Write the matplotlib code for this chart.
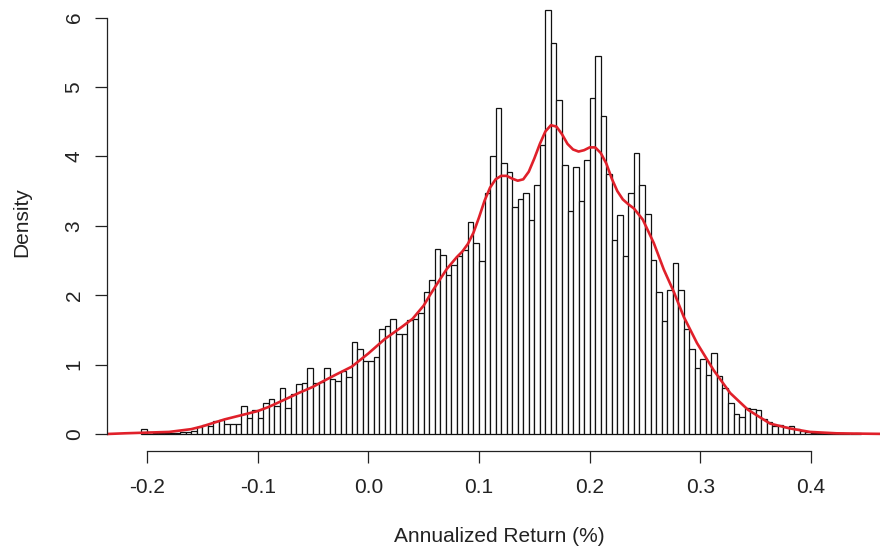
import numpy as np
import matplotlib
matplotlib.use("Agg")
import matplotlib.pyplot as plt

plt.rcParams["font.family"] = "Liberation Sans"

# histogram: bins of 0.005 starting at -0.205, heights (density)
bin_start = -0.205
bin_width = 0.005
heights = [
    0.07, 0.03, 0.02, 0.02, 0.02, 0.02, 0.02, 0.03, 0.03, 0.05,   # -0.205 .. -0.160
    0.10, 0.13, 0.12, 0.19, 0.20, 0.15, 0.15, 0.15, 0.40, 0.23,   # -0.155 .. -0.110
    0.35, 0.23, 0.44, 0.50, 0.40, 0.67, 0.37, 0.58, 0.72, 0.73,   # -0.105 .. -0.060
    0.95, 0.74, 0.75, 0.95, 0.79, 0.76, 0.91, 0.82, 1.33, 1.23,   # -0.055 .. -0.010
    1.05, 1.05, 1.11, 1.51, 1.56, 1.66, 1.44, 1.44, 1.64, 1.66,   # -0.005 .. 0.040
    1.75, 2.04, 2.22, 2.67, 2.58, 2.29, 2.43, 2.56, 2.65, 3.05,   # 0.045 .. 0.090
    2.75, 2.49, 3.48, 4.01, 4.70, 3.90, 3.77, 3.27, 3.38, 3.47,   # 0.095 .. 0.140
    3.08, 3.59, 4.16, 6.11, 5.64, 4.82, 3.87, 3.21, 3.85, 3.36,   # 0.145 .. 0.190
    3.95, 4.84, 5.45, 4.58, 3.75, 2.80, 3.15, 2.56, 3.47, 4.05,   # 0.195 .. 0.240
    3.59, 3.17, 2.51, 2.05, 1.63, 2.08, 2.46, 2.07, 1.51, 1.23,   # 0.245 .. 0.290
    0.95, 1.08, 0.85, 1.16, 0.83, 0.67, 0.44, 0.29, 0.25, 0.37,   # 0.295 .. 0.340
    0.36, 0.35, 0.21, 0.18, 0.12, 0.13, 0.10, 0.12, 0.07, 0.05,   # 0.345 .. 0.390
    0.03, 0.02, 0.01, 0.01, 0.01, 0.00, 0.01, 0.00, 0.00, 0.02,   # 0.395 .. 0.440
]

# density curve, points
kde_x = [-0.236, -0.22, -0.2, -0.18, -0.16, -0.15, -0.14, -0.13, -0.12, -0.11,
         -0.10, -0.09, -0.075, -0.063, -0.05, -0.042, -0.03, -0.015, 0.0, 0.015,
         0.03, 0.04, 0.05, 0.056, 0.064, 0.071, 0.08, 0.085, 0.09, 0.095,
         0.10, 0.105, 0.11, 0.115, 0.12, 0.125, 0.13, 0.135, 0.14, 0.145,
         0.15, 0.155, 0.16, 0.165, 0.17, 0.175, 0.18, 0.185, 0.19, 0.195,
         0.20, 0.205, 0.21, 0.215, 0.22, 0.225, 0.23, 0.235, 0.24, 0.248,
         0.258, 0.267, 0.276, 0.285, 0.297, 0.312, 0.327, 0.343, 0.354, 0.363,
         0.381, 0.399, 0.423, 0.445, 0.472]
kde_y = [0.0, 0.01, 0.02, 0.03, 0.07, 0.11, 0.16, 0.21, 0.25, 0.29,
         0.33, 0.39, 0.50, 0.59, 0.68, 0.75, 0.85, 0.97, 1.16, 1.37,
         1.54, 1.66, 1.85, 2.01, 2.21, 2.38, 2.55, 2.63, 2.74, 2.90,
         3.12, 3.36, 3.55, 3.67, 3.72, 3.72, 3.68, 3.65, 3.67, 3.78,
         3.97, 4.18, 4.36, 4.45, 4.43, 4.32, 4.18, 4.10, 4.07, 4.09,
         4.13, 4.13, 4.05, 3.90, 3.68, 3.50, 3.38, 3.31, 3.25, 3.09,
         2.75, 2.37, 2.05, 1.69, 1.31, 0.92, 0.59, 0.35, 0.24, 0.15,
         0.08, 0.03, 0.01, 0.005, 0.0]

xticks = [-0.2, -0.1, 0.0, 0.1, 0.2, 0.3, 0.4]
xtick_labels = ["-0.2", "-0.1", "0.0", "0.1", "0.2", "0.3", "0.4"]
yticks = [0, 1, 2, 3, 4, 5, 6]

W, H = 880, 549
fig = plt.figure(figsize=(W / 100, H / 100), dpi=100)
ax = fig.add_axes([106.7 / W, (H - 451) / H, (891 - 106.7) / W, 451 / H])

lefts = bin_start + bin_width * np.arange(len(heights))
ax.bar(lefts, heights, width=bin_width, align="edge",
       facecolor="white", edgecolor="#111111", linewidth=0.9)
ax.plot(kde_x, kde_y, color="#E0202A", linewidth=1.9,
        solid_joinstyle="round", solid_capstyle="round")

ax.set_xlim(-0.2364, 0.4723)
ax.set_ylim(-0.245, 6.254)

for side in ["top", "right"]:
    ax.spines[side].set_visible(False)
ax.spines["bottom"].set_bounds(-0.2, 0.4)
ax.spines["left"].set_bounds(0, 6)
for side in ["bottom", "left"]:
    ax.spines[side].set_color("#222222")
    ax.spines[side].set_linewidth(0.9)

ax.set_xticks(xticks)
ax.set_xticklabels(xtick_labels)
ax.set_yticks(yticks)
ax.set_yticklabels([str(v) for v in yticks], rotation=90, va="center")
ax.tick_params(axis="both", direction="out", length=8.6, width=0.9,
               color="#222222", labelsize=15, labelcolor="#222222")
ax.tick_params(axis="x", pad=10.6)
ax.tick_params(axis="y", pad=8)

fig.text(499 / W, 1 - 536.7 / H, "Annualized Return (%)", fontsize=15,
         color="#222222", ha="center", va="center")
fig.text(21.7 / W, 1 - 221.7 / H, "Density", fontsize=15, rotation=90,
         color="#222222", ha="center", va="center")

fig.savefig("out.png", dpi=100)
